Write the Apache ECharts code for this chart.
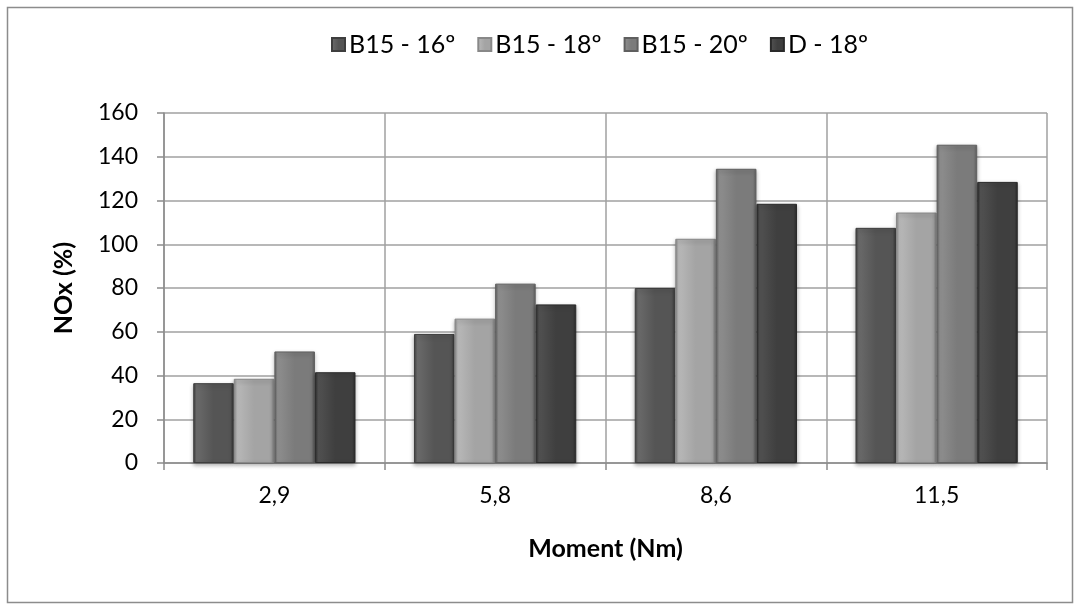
<!DOCTYPE html>
<html>
<head>
<meta charset="utf-8">
<script src="https://cdn.jsdelivr.net/npm/echarts@6/dist/echarts.min.js"></script>
<style>
html,body{margin:0;padding:0;background:#fff;}
#chart{width:1081px;height:608px;}
</style>
</head>
<body>
<div id="chart"></div>
<script>
const categories = ['2,9', '5,8', '8,6', '11,5'];
const seriesNames = ['B15 - 16º', 'B15 - 18º', 'B15 - 20º', 'D - 18º'];
const b15_16 = [36.5, 59, 80, 107.5];
const b15_18 = [38.5, 66, 102.5, 114.5];
const b15_20 = [51, 82, 134.5, 145.5];
const d_18 = [41.5, 72.5, 118.5, 128.5];
const yTicks = [0, 20, 40, 60, 80, 100, 120, 140, 160];

const baseColors = [
  ['#6a6a6a', '#555555', '#3e3e3e'],
  ['#b8b8b8', '#a4a4a4', '#888888'],
  ['#8e8e8e', '#7b7b7b', '#5f5f5f'],
  ['#515151', '#3f3f3f', '#2a2a2a']
];
const allData = [b15_16, b15_18, b15_20, d_18];

function grad(c) {
  return {
    type: 'linear', x: 0, y: 0, x2: 1, y2: 0,
    colorStops: [
      {offset: 0, color: c[2]},
      {offset: 0.08, color: c[0]},
      {offset: 0.5, color: c[1]},
      {offset: 0.92, color: c[1]},
      {offset: 1, color: c[2]}
    ]
  };
}

const font = 'Lato, "Open Sans", sans-serif';
const chart = echarts.init(document.getElementById('chart'), null, {renderer: 'canvas'});
chart.setOption({
  animation: false,
  backgroundColor: '#ffffff',
  graphic: [{
    type: 'rect', shape: {x: 7.5, y: 7.5, width: 1065, height: 595},
    style: {fill: 'none', stroke: '#8c8c8c', lineWidth: 1.5}, silent: true, z: -1
  }],
  legend: {
    data: seriesNames,
    top: 27,
    left: 326,
    itemWidth: 13,
    itemHeight: 13,
    itemGap: 22,
    icon: 'rect',
    textStyle: {fontFamily: font, fontSize: 25, color: '#000', padding: [0, 0, 0, -1]}
  },
  grid: {left: 164, right: 34, top: 113, bottom: 145},
  xAxis: {
    type: 'category',
    data: categories,
    name: 'Moment (Nm)',
    nameLocation: 'middle',
    nameGap: 73,
    nameTextStyle: {fontFamily: font, fontSize: 25, fontWeight: 'bold', color: '#000'},
    axisLine: {lineStyle: {color: '#8c8c8c', width: 1.5}},
    axisTick: {show: true, length: 7, lineStyle: {color: '#8c8c8c', width: 1.5}},
    axisLabel: {fontFamily: font, fontSize: 23, color: '#000', margin: 21},
    splitLine: {show: true, lineStyle: {color: '#a0a0a0', width: 1.5}}
  },
  yAxis: {
    type: 'value',
    min: 0, max: 160, interval: 20,
    name: 'NOx (%)',
    nameLocation: 'middle',
    nameGap: 88,
    nameTextStyle: {fontFamily: font, fontSize: 25, fontWeight: 'bold', color: '#000'},
    axisLine: {show: true, lineStyle: {color: '#8c8c8c', width: 1.5}},
    axisTick: {show: true, length: 7, lineStyle: {color: '#8c8c8c', width: 1.5}},
    axisLabel: {fontFamily: font, fontSize: 23, color: '#000', margin: 26,
      formatter: v => yTicks.includes(v) ? String(v) : ''},
    splitLine: {show: true, lineStyle: {color: '#a0a0a0', width: 1.5}}
  },
  series: allData.map((d, i) => ({
    name: seriesNames[i],
    type: 'bar',
    data: d,
    barGap: '0%',
    barCategoryGap: '26.5%',
    itemStyle: {
      color: grad(baseColors[i]),
      borderColor: baseColors[i][2],
      borderWidth: 1,
      shadowColor: 'rgba(0,0,0,0.3)',
      shadowBlur: 4,
      shadowOffsetY: 2
    }
  }))
});
</script>
</body>
</html>
